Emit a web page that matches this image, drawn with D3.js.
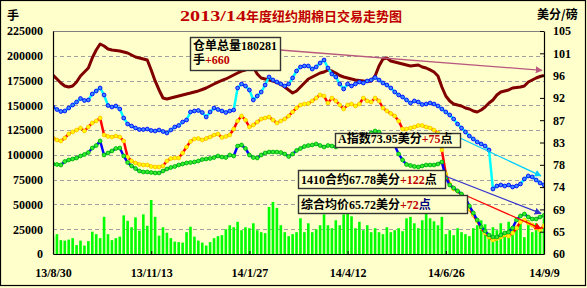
<!DOCTYPE html>
<html>
<head>
<meta charset="utf-8">
<script src="https://cdn.jsdelivr.net/npm/d3@7"></script>
<style>
  body { margin: 0; background: #fff; }
  svg { display: block; }
  text { font-family: "Liberation Serif", "Noto Sans CJK SC", serif; font-weight: bold; }
</style>
</head>
<body>
<div id="chart"></div>
<script>
// one point every 3 calendar days, 2013-08-30 .. 2014-09-09
var startDate = new Date(2013, 7, 30);
var stepDays = 3;

var tickDates = [new Date(2013, 7, 30), new Date(2013, 10, 13), new Date(2014, 0, 27),
                 new Date(2014, 3, 12), new Date(2014, 5, 26), new Date(2014, 8, 9)];
var tickLabels = ["13/8/30", "13/11/13", "14/1/27", "14/4/12", "14/6/26", "14/9/9"];

var leftTicks = [0, 25000, 50000, 75000, 100000, 125000, 150000, 175000, 200000, 225000];
var rightTicks = [60, 64.5, 69, 73.5, 78, 82.5, 87, 91.5, 96, 100.5, 105];
var rightTickLabels = ["60", "65", "69", "74", "78", "83", "87", "92", "96", "101", "105"];

// 仓单总量 (手)
var stocks = [180600,176600,172500,169500,168500,169500,173500,179600,183600,187700,
  197800,205800,211900,209900,206800,205800,205300,204800,203800,202800,
  200800,198800,197800,196800,195700,185700,174600,165500,157400,156400,
  157400,158400,159400,160400,161400,162400,163500,164500,166000,167500,
  169500,171500,173500,175100,176600,178600,180600,182600,184600,185700,
  187700,188700,181600,177600,176600,175600,174600,173000,171500,168500,
  165500,162400,164500,168500,172500,176600,178600,180600,182600,183600,
  185700,184600,182600,180100,178600,177600,176600,175600,175100,174600,
  174100,174600,179600,189700,196800,197800,194700,193700,192700,191700,
  190700,189700,190200,190700,188700,187700,185700,183600,179600,168500,
  159400,154400,151400,150300,149300,147300,146300,144300,143300,145300,
  148300,152400,155400,160400,163500,164500,165500,167500,168000,168500,
  169500,173500,175600,177600,179100,180281];

// A指数 (美分/磅)
var aIndex = [89.66,89.16,88.76,88.86,89.46,90.07,90.67,91.38,90.98,91.08,
  92.29,92.89,93.50,92.09,89.97,89.66,89.87,89.26,87.44,86.23,
  85.83,85.43,85.12,85.12,85.22,84.92,84.82,85.02,84.72,84.42,
  85.02,85.63,85.93,86.64,87.04,88.66,88.86,88.96,88.55,87.65,
  88.66,89.46,89.16,88.86,88.55,88.86,89.06,93.50,94.31,93.90,
  93.09,91.08,91.88,92.69,94.10,95.72,95.11,94.71,94.31,93.90,
  94.31,95.52,96.93,97.74,97.94,97.94,97.33,97.74,98.54,99.15,
  97.53,96.32,95.72,94.31,93.30,94.31,93.90,94.31,94.71,94.51,
  94.91,95.11,95.62,95.11,94.51,94.10,93.50,92.69,92.09,91.68,
  91.08,90.47,90.88,90.67,90.17,90.27,90.47,90.27,89.87,89.26,
  88.66,88.05,87.24,86.23,85.43,84.62,83.81,83.21,82.60,82.20,
  81.79,80.99,73.12,73.72,73.92,73.72,73.92,73.52,73.72,74.13,
  75.14,75.74,75.54,74.93,74.33,73.95];

// 综合均价 (美分/磅)
var avgPrice = [83.41,83.01,82.80,83.41,84.22,84.62,85.02,85.43,84.82,85.63,
  86.44,86.84,87.44,84.01,83.71,83.61,83.81,83.61,82.80,79.57,
  78.77,78.36,78.06,77.96,77.96,77.66,77.56,77.56,77.76,78.77,
  79.27,79.37,79.37,80.38,81.59,82.70,83.21,83.31,83.01,83.31,
  83.61,84.01,84.22,83.51,83.71,84.01,85.22,86.84,87.85,87.04,
  85.63,86.03,86.64,87.24,87.44,87.65,87.04,86.44,86.84,87.24,
  87.85,88.66,89.46,90.07,90.27,90.37,90.88,91.48,92.09,91.88,
  90.47,91.48,90.88,90.07,89.26,90.07,90.27,89.87,90.27,91.48,
  90.88,90.67,91.48,90.88,89.46,88.86,88.35,87.85,86.84,85.22,
  85.22,85.43,85.63,85.93,85.93,85.63,85.43,85.02,84.42,80.99,
  76.14,74.13,73.12,72.71,71.91,70.70,69.08,67.87,66.66,65.25,
  64.24,63.43,62.83,63.13,63.43,63.83,63.63,64.24,65.25,66.46,
  66.86,66.26,65.85,65.25,64.84,65.72];

// 1410合约 (美分/磅)
var contract1410 = [78.16,78.06,77.96,78.67,78.97,79.17,79.37,79.78,80.08,80.48,
  81.39,81.89,82.80,79.98,80.38,80.79,81.29,81.39,79.78,78.46,
  77.76,77.25,76.75,76.55,76.55,76.45,76.35,76.35,76.75,77.15,
  77.46,77.66,77.96,78.16,78.36,78.46,78.57,78.77,79.07,79.17,
  79.27,79.47,79.78,79.57,79.47,79.98,79.78,81.79,82.00,81.29,
  79.98,79.47,79.37,79.98,80.38,80.58,80.58,80.58,80.48,80.18,
  79.67,80.18,80.89,81.29,81.69,81.89,82.00,82.20,81.89,81.59,
  81.89,81.79,81.59,82.00,82.50,82.70,82.80,83.01,83.21,83.31,
  83.81,84.42,84.82,84.62,83.81,83.11,82.60,81.89,80.18,78.97,
  78.06,77.86,77.66,77.56,77.76,77.96,77.96,77.96,78.16,78.57,
  75.34,73.92,73.32,72.71,72.11,71.30,69.69,68.28,66.86,65.45,
  64.64,63.83,63.43,63.43,63.83,64.24,64.44,65.25,66.86,67.67,
  68.07,67.47,67.06,67.06,67.47,67.78];

// 成交量 (手)
var volume = [17500,20000,14000,13500,14500,16000,9000,13500,8500,13000,
  22500,20000,16000,37500,20000,14000,16000,17500,39000,33500,
  27000,37000,23500,40000,28500,54500,37500,18500,27000,21500,
  16000,12500,12000,11500,22000,27500,17500,13500,11500,8500,
  12000,16000,18000,19000,25000,29000,27000,32500,24000,27000,
  26000,31000,24000,22000,21000,47500,52500,46500,29000,22000,
  18000,20000,22000,36000,22000,31000,22000,25000,29000,40000,
  29000,26000,34000,29000,40000,42000,38000,26000,32500,24000,
  29000,22000,26000,22000,20000,27000,22000,24000,26000,23000,
  36000,37500,31000,26000,34000,42500,36000,33000,29000,37500,
  20000,24000,19000,26000,22000,20000,18000,26000,29000,34000,
  30000,17000,27000,24000,31000,20000,32500,28000,26000,31000,
  17000,34000,22000,31000,27000,36000];

var width = 587, height = 288;
var plot = {left: 53, right: 544, top: 31, bottom: 254};

var dates = stocks.map(function(d, i) { return d3.timeDay.offset(startDate, i * stepDays); });

var x = d3.scaleTime()
    .domain([tickDates[0], tickDates[tickDates.length - 1]])
    .range([plot.left, plot.right]);
var yL = d3.scaleLinear().domain([0, 225000]).range([plot.bottom, plot.top]);
var yR = d3.scaleLinear().domain([60, 105]).range([plot.bottom, plot.top]);

var svg = d3.select("#chart").append("svg")
    .attr("width", width)
    .attr("height", height);

svg.append("rect").attr("width", width).attr("height", height).attr("fill", "#ffffcc");
svg.append("rect")
    .attr("x", 0.5).attr("y", 0.5).attr("width", 585).attr("height", 285)
    .attr("fill", "none").attr("stroke", "#000").attr("stroke-width", 1.2);

svg.append("clipPath").attr("id", "clip")
  .append("rect")
    .attr("x", plot.left).attr("y", plot.top - 4)
    .attr("width", plot.right - plot.left).attr("height", plot.bottom - plot.top + 4);

// gridlines
svg.append("g").selectAll("line")
    .data(leftTicks.slice(1, -1))
    .enter().append("line")
    .attr("x1", plot.left).attr("x2", plot.right)
    .attr("y1", function(d) { return Math.round(yL(d)) + 0.5; })
    .attr("y2", function(d) { return Math.round(yL(d)) + 0.5; })
    .attr("stroke", "#a0a0a0")
    .attr("stroke-dasharray", "4,3");

var g = svg.append("g").attr("clip-path", "url(#clip)");

// volume bars
g.append("g").selectAll("rect")
    .data(volume)
    .enter().append("rect")
    .attr("x", function(d, i) { return x(dates[i]) - 1.3; })
    .attr("width", 2.6)
    .attr("y", function(d) { return yL(d); })
    .attr("height", function(d) { return plot.bottom - yL(d); })
    .attr("fill", "#00ff00");

// 仓单总量
g.append("path")
    .attr("d", d3.line().x(function(d, i) { return x(dates[i]); }).y(function(d) { return yL(d); })(stocks))
    .attr("fill", "none")
    .attr("stroke", "#800000")
    .attr("stroke-width", 3)
    .attr("stroke-linejoin", "round");

function priceSeries(values, lineColor, fill, edge) {
    var line = d3.line()
        .x(function(d, i) { return x(dates[i]); })
        .y(function(d) { return yR(d); });
    g.append("path")
        .attr("d", line(values))
        .attr("fill", "none")
        .attr("stroke", lineColor)
        .attr("stroke-width", 2.5);
    g.append("g").selectAll("circle")
        .data(values)
        .enter().append("circle")
        .attr("cx", function(d, i) { return x(dates[i]); })
        .attr("cy", function(d) { return yR(d); })
        .attr("r", 1.9)
        .attr("fill", fill)
        .attr("stroke", edge)
        .attr("stroke-width", 0.9);
}

priceSeries(aIndex, "#00ffff", "#3f8cff", "#0000ff");
priceSeries(avgPrice, "#ff0000", "#ffff00", "#ffcc00");
priceSeries(contract1410, "#0000ff", "#33ee33", "#00bb00");

// frame
svg.append("line").attr("x1", plot.left).attr("x2", plot.right)
    .attr("y1", plot.top + 0.5).attr("y2", plot.top + 0.5).attr("stroke", "#808080");

// axes
var leftAxis = svg.append("g")
    .attr("transform", "translate(" + plot.left + ",0)")
    .call(d3.axisLeft(yL).tickValues(leftTicks).tickSize(0).tickPadding(10).tickFormat(d3.format("d")));
var rightAxis = svg.append("g")
    .attr("transform", "translate(" + plot.right + ",0)")
    .call(d3.axisRight(yR).tickValues(rightTicks).tickSizeInner(-4).tickSizeOuter(0).tickPadding(9)
        .tickFormat(function(d, i) { return rightTickLabels[i]; }));
var bottomAxis = svg.append("g")
    .attr("transform", "translate(0," + plot.bottom + ")")
    .call(d3.axisBottom(x).tickValues(tickDates).tickSizeInner(-3).tickSizeOuter(0).tickPadding(14)
        .tickFormat(function(d, i) { return tickLabels[i]; }));

[leftAxis, rightAxis, bottomAxis].forEach(function(a) {
    a.select(".domain").attr("stroke", "#000").attr("stroke-width", 1.2);
    a.selectAll(".tick line").attr("stroke", "#000");
    a.selectAll("text")
        .attr("fill", "#000")
        .style("font-size", "12px")
        .style("font-family", "'Liberation Serif', serif")
        .style("font-weight", "bold");
});

// titles
var title = svg.append("text").attr("x", 180).attr("y", 21).attr("fill", "#c00000");
title.append("tspan").attr("textLength", 66).attr("lengthAdjust", "spacingAndGlyphs")
    .style("font-size", "15px").text("2013/14");
title.append("tspan").style("font-size", "13px")
    .style("font-family", "'Noto Sans CJK SC', sans-serif").text("年度纽约期棉日交易走势图");

svg.append("text").attr("x", 7).attr("y", 20)
    .style("font-size", "12px").style("font-family", "'Noto Sans CJK SC', sans-serif").text("手");
svg.append("text").attr("x", 537).attr("y", 19)
    .style("font-size", "12px").style("font-family", "'Noto Sans CJK SC', sans-serif").text("美分/磅");

// annotations
var defs = svg.append("defs");
function arrowHead(id, color) {
    defs.append("marker")
        .attr("id", id)
        .attr("viewBox", "0 0 10 10")
        .attr("refX", 9).attr("refY", 5)
        .attr("markerWidth", 7).attr("markerHeight", 7)
        .attr("markerUnits", "userSpaceOnUse")
        .attr("orient", "auto")
      .append("path").attr("d", "M0,0L10,5L0,10z").attr("fill", color);
}

var last = dates.length - 1;
var notes = [
    {box: [190, 37, 90, 33], from: [280, 50], to: [x(dates[last]) - 2, yL(stocks[last]) - 5], color: "#b8587e",
     lines: [[["仓单总量180281", "#000"]], [["手", "#000"], ["+660", "#c00000"]]]},
    {box: [335, 133, 125, 14], from: [460, 138], to: [x(dates[last]) - 3, yR(aIndex[last]) - 9], color: "#00ccff",
     lines: [[["A指数73.95美分", "#000"], ["+75", "#c00000"], ["点", "#000"]]]},
    {box: [298, 170, 147, 18], from: [445, 176], to: [x(dates[last]) - 3, yR(contract1410[last]) - 2], color: "#3333cc",
     lines: [[["1410合约67.78美分", "#000"], ["+122", "#c00000"], ["点", "#000"]]]},
    {box: [298, 195, 169, 18], from: [467, 196], to: [x(dates[last]) - 3, yR(avgPrice[last]) + 3], color: "#ff0000",
     lines: [[["综合均价65.72美分", "#000"], ["+72", "#c00000"], ["点", "#000080"]]]}
];

notes.forEach(function(n, k) {
    arrowHead("arrow" + k, n.color);
    svg.append("line")
        .attr("x1", n.from[0]).attr("y1", n.from[1])
        .attr("x2", n.to[0]).attr("y2", n.to[1])
        .attr("stroke", n.color).attr("stroke-width", 1.3)
        .attr("marker-end", "url(#arrow" + k + ")");
});

notes.forEach(function(n) {
    svg.append("rect")
        .attr("x", n.box[0] + 0.5).attr("y", n.box[1] + 0.5)
        .attr("width", n.box[2]).attr("height", n.box[3])
        .attr("fill", "#ffffcc").attr("stroke", "#333").attr("stroke-width", 1.4);
    n.lines.forEach(function(parts, j) {
        var t = svg.append("text")
            .attr("x", n.box[0] + 3)
            .attr("y", n.lines.length > 1 ? n.box[1] + 13 + j * 14 : n.box[1] + n.box[3] - 4)
            .style("font-size", "12px");
        parts.forEach(function(p) {
            t.append("tspan").attr("fill", p[1]).text(p[0]);
        });
    });
});
</script>
</body>
</html>
